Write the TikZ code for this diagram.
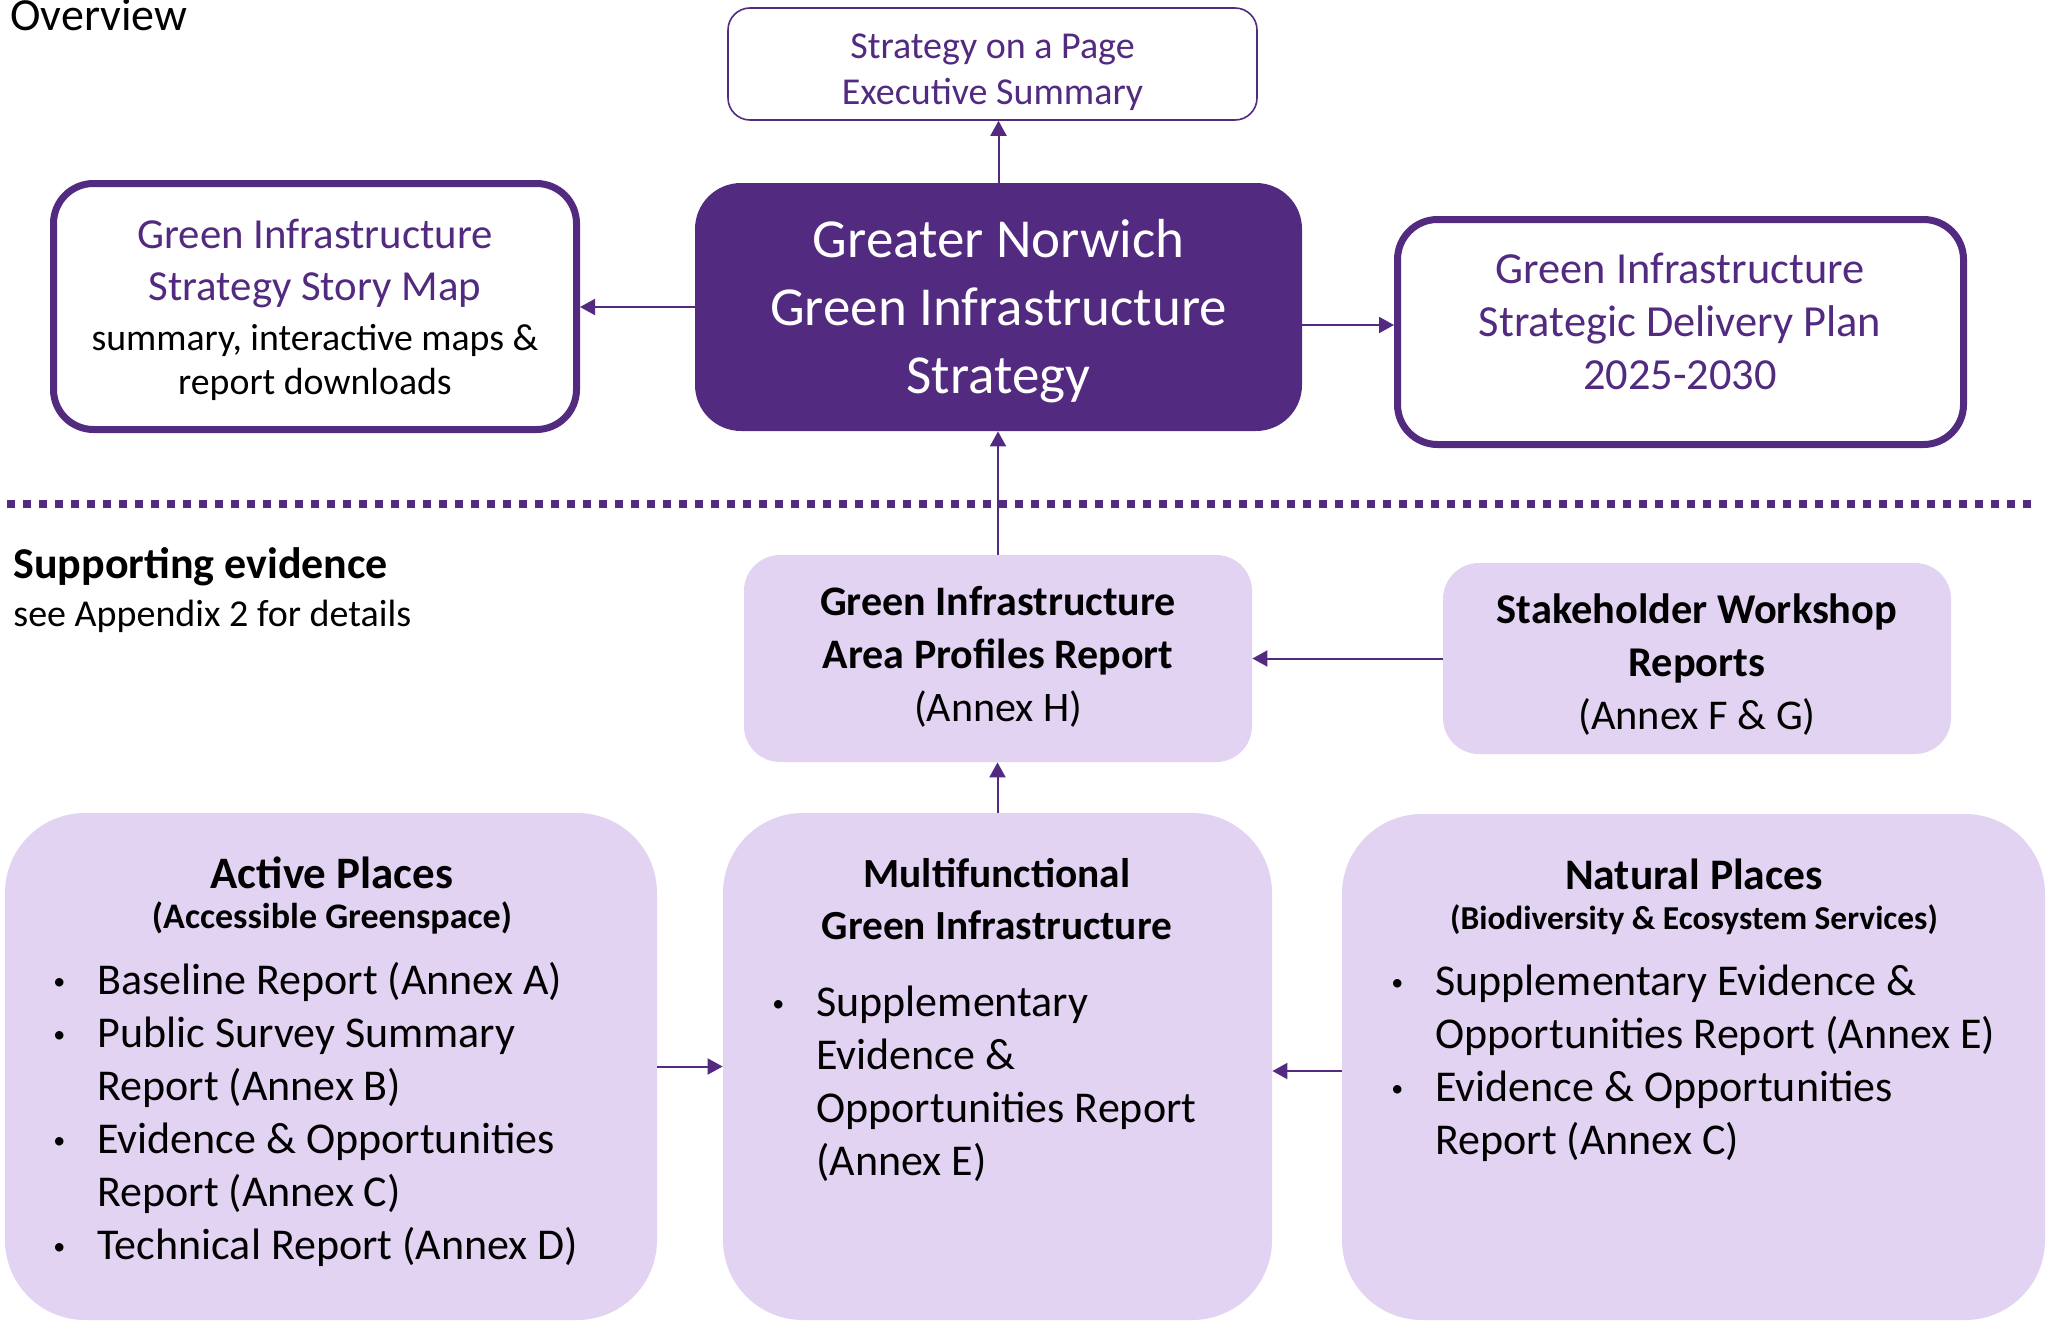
\documentclass[tikz,border=0pt]{standalone}
\usepackage{fontspec}
\setmainfont{Carlito}
\usetikzlibrary{arrows.meta}
\definecolor{gnpurple}{RGB}{82,42,128}
\definecolor{lav}{RGB}{225,211,241}
\newcommand{\fs}[2]{\fontsize{#1}{#2}\selectfont}
\newcommand{\smbul}{\raisebox{2.2pt}{\fontsize{12}{12}\selectfont\textbullet}}
\newcommand{\bitem}[1]{\hbox{\makebox[22pt][l]{\smbul}#1}}
\newcommand{\bcont}[1]{\hbox{\hspace{22pt}#1}}
\begin{document}
\begin{tikzpicture}[x=0.5pt,y=-0.5pt,
  thinbox/.style={draw=gnpurple, line width=0.8pt, rounded corners=11pt, fill=white, inner sep=0pt},
  thickbox/.style={draw=gnpurple, line width=3.5pt, rounded corners=20pt, fill=white, inner sep=0pt},
  mainbox/.style={fill=gnpurple, rounded corners=23pt, inner sep=0pt},
  lavbox/.style={fill=lav, inner sep=0pt},
  txt/.style={inner sep=0pt},
  txtc/.style={inner sep=0pt, align=center},
  arr/.style={draw=gnpurple, line width=1pt, -{Triangle[length=7.5pt,width=8pt]}},
  dotline/.style={draw=gnpurple, line width=4pt, dash pattern=on 4pt off 4pt}]
\useasboundingbox (0,0) rectangle (2049,1322);

% boxes
\node[thinbox, minimum width=264.5pt, minimum height=56pt] (sop) at (992.5,64) {};
\node[mainbox, minimum width=303.5pt, minimum height=124pt] (gn) at (998.5,307) {};
\node[thickbox, minimum width=261.5pt, minimum height=123pt] (story) at (315,306.5) {};
\node[thickbox, minimum width=283pt, minimum height=112.5pt] (dp) at (1680.5,332) {};
\node[lavbox, rounded corners=18pt, minimum width=254pt, minimum height=103.5pt] (area) at (998,658.5) {};
\node[lavbox, rounded corners=18pt, minimum width=254pt, minimum height=95.5pt] (stake) at (1697,658.5) {};
\node[lavbox, rounded corners=40pt, minimum width=326pt, minimum height=253.5pt] (active) at (331,1066.5) {};
\node[lavbox, rounded corners=40pt, minimum width=274.5pt, minimum height=253.5pt] (multi) at (997.5,1066.5) {};
\node[lavbox, rounded corners=40pt, minimum width=351.5pt, minimum height=253pt] (natural) at (1693.5,1067) {};

% connectors
\draw[arr] (gn.north) -- (gn.north |- sop.south);
\draw[arr] (gn.west) -- (gn.west -| story.east);
\draw[arr] ([yshift=-9pt]gn.east) -- ([yshift=-9pt]gn.east -| dp.west);
\draw[arr] (area.north) -- (area.north |- gn.south);
\draw[arr] (stake.west) -- (stake.west -| area.east);
\draw[arr] (multi.north) -- (multi.north |- area.south);
\draw[arr] (active.east) -- (active.east -| multi.west);
\draw[arr] ([yshift=-2pt]natural.west) -- ([yshift=-2pt]natural.west -| multi.east);

% divider
\coordinate (dl) at (7,504);
\coordinate (dr) at (2031,504);
\draw[dotline] (dl) -- (dr);

% texts
\node[txt, anchor=base west, font=\fs{23}{27}] (ov) at (10,31) {Overview};
\node[txtc, text=gnpurple, font=\fs{19}{23}] (soptxt) at (992.5,72) {Strategy on a Page\\Executive Summary};
\node[txtc, text=white, font=\fs{27.5}{34}] (gntxt) at (998.5,311) {Greater Norwich\\Green Infrastructure\\Strategy};
\node[txtc, text=gnpurple, font=\fs{21.4}{26}] (storyt) at (315,264) {Green Infrastructure\\Strategy Story Map};
\node[txtc, font=\fs{18.9}{22}] (storys) at (315,362) {summary, interactive maps \&\\report downloads};
\node[txtc, text=gnpurple, font=\fs{22.2}{26.5}] (dptxt) at (1680,321) {Green Infrastructure\\Strategic Delivery Plan\\2025-2030};
\node[txt, anchor=west, font=\bfseries\fs{22}{26}] (sup) at (13,567) {Supporting evidence};
\node[txt, anchor=west, font=\fs{19}{23}] (app) at (13,616) {see Appendix 2 for details};
\node[txtc, font=\fs{21}{26.5}] (areatxt) at (998,657) {\textbf{Green Infrastructure}\\\textbf{Area Profiles Report}\\(Annex H)};
\node[txtc, font=\fs{21.2}{26.5}] (staketxt) at (1697,665) {\textbf{Stakeholder Workshop}\\\textbf{Reports}\\(Annex F \& G)};

\node[txt, anchor=base, font=\bfseries\fs{22.5}{27}] (actt) at (332,888) {Active Places};
\node[txt, anchor=base, font=\bfseries\fs{18}{22}] (acts) at (332,928) {(Accessible Greenspace)};
\node[txt, anchor=base, font=\bfseries\fs{20.7}{26}] (mt1) at (997,887) {Multifunctional};
\node[txt, anchor=base, font=\bfseries\fs{20.7}{26}] (mt2) at (997,939) {Green Infrastructure};
\node[txt, anchor=base, font=\bfseries\fs{21.8}{26}] (nt) at (1694,889) {Natural Places};
\node[txt, anchor=base, font=\bfseries\fs{16.7}{20}] (ns) at (1694,929) {(Biodiversity \& Ecosystem Services)};

\node[txt, anchor=base west, font=\fs{22}{26.5}] (actl) at (53,994) {\vtop{\baselineskip=26.5pt
  \bitem{Baseline Report (Annex A)}\bitem{Public Survey Summary}\bcont{Report (Annex B)}%
  \bitem{Evidence \& Opportunities}\bcont{Report (Annex C)}\bitem{Technical Report (Annex D)}}};
\node[txt, anchor=base west, font=\fs{22}{26.5}] (multl) at (772,1016) {\vtop{\baselineskip=26.5pt
  \bitem{Supplementary}\bcont{Evidence \&}\bcont{Opportunities Report}\bcont{(Annex E)}}};
\node[txt, anchor=base west, font=\fs{22}{26.5}] (natl) at (1391,995) {\vtop{\baselineskip=26.5pt
  \bitem{Supplementary Evidence \&}\bcont{Opportunities Report (Annex E)}%
  \bitem{Evidence \& Opportunities}\bcont{Report (Annex C)}}};
\end{tikzpicture}
\end{document}
